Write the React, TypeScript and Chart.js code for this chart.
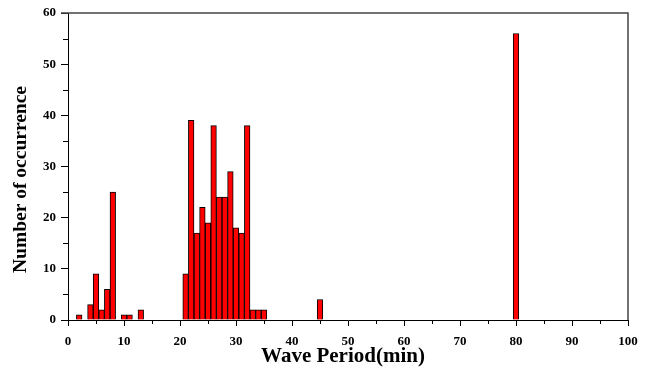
import React, { useEffect, useRef } from 'react';
import { Chart, registerables } from 'chart.js';

Chart.register(...registerables);

// Wave period (min) of each bar and its number of occurrence
const periods = [2, 4, 5, 6, 7, 8, 10, 11, 13, 21, 22, 23, 24, 25, 26, 27, 28, 29, 30, 31, 32, 33, 34, 35, 45, 80];
const counts = [1, 3, 9, 2, 6, 25, 1, 1, 2, 9, 39, 17, 22, 19, 38, 24, 24, 29, 18, 17, 38, 2, 2, 2, 4, 56];

const xTickLabels = [0, 10, 20, 30, 40, 50, 60, 70, 80, 90, 100];
const yTickLabels = [0, 10, 20, 30, 40, 50, 60];
const xMinorTicks = [5, 15, 25, 35, 45, 55, 65, 75, 85, 95];
const yMinorTicks = [5, 15, 25, 35, 45, 55];

const xTitle = 'Wave Period(min)';
const yTitle = 'Number of occurrence';

const FONT = '"Liberation Serif", "Times New Roman", serif';

const framePlugin = {
  id: 'frameAndTitles',
  afterDraw(chart: any) {
    const { ctx, chartArea } = chart;
    const { left, right, top, bottom } = chartArea;
    const xs = chart.scales.x;
    const ys = chart.scales.y;
    ctx.save();
    // minor ticks
    ctx.strokeStyle = '#000';
    ctx.lineWidth = 1;
    ctx.beginPath();
    xMinorTicks.forEach((v) => {
      const px = Math.round(xs.getPixelForValue(v)) + 0.5;
      ctx.moveTo(px, bottom);
      ctx.lineTo(px, bottom + 4);
    });
    yMinorTicks.forEach((v) => {
      const py = Math.round(ys.getPixelForValue(v)) + 0.5;
      ctx.moveTo(left - 5, py);
      ctx.lineTo(left, py);
    });
    ctx.stroke();
    // frame (top and right)
    ctx.strokeStyle = '#444';
    ctx.lineWidth = 1.5;
    ctx.beginPath();
    ctx.moveTo(left - 7, top);
    ctx.lineTo(right, top);
    ctx.lineTo(right, bottom);
    ctx.stroke();
    // titles
    ctx.fillStyle = '#000';
    ctx.font = 'bold 21px ' + FONT;
    ctx.textAlign = 'center';
    ctx.textBaseline = 'middle';
    ctx.fillText(xTitle, (left + right) / 2 - 5, bottom + 37);
    ctx.translate(left - 47, (top + bottom) / 2 + 13);
    ctx.rotate(-Math.PI / 2);
    ctx.font = 'bold 19.5px ' + FONT;
    ctx.fillText(yTitle, 0, 0);
    ctx.restore();
  },
};

export default function App() {
  const canvasRef = useRef<HTMLCanvasElement | null>(null);

  useEffect(() => {
    document.body.style.margin = '0';
    const canvas = canvasRef.current;
    if (!canvas) return;
    const chart = new Chart(canvas, {
      type: 'bar',
      data: {
        datasets: [
          {
            data: periods.map((p, i) => ({ x: p, y: counts[i] })),
            backgroundColor: '#ff0000',
            borderColor: '#000000',
            borderWidth: 1,
            barPercentage: 1,
            categoryPercentage: 1,
          },
        ],
      },
      options: {
        responsive: false,
        animation: false,
        devicePixelRatio: 1,
        layout: { padding: { left: 0, right: 24, top: 13, bottom: 0 } },
        plugins: { legend: { display: false }, tooltip: { enabled: false } },
        scales: {
          x: {
            type: 'linear',
            min: 0,
            max: 100,
            offset: false,
            grid: { offset: false, drawOnChartArea: false, drawTicks: true, tickLength: 6, color: '#000' },
            border: { display: true, color: '#000', width: 1 },
            ticks: {
              stepSize: 10,
              padding: 8,
              color: '#000',
              font: { family: FONT, size: 13, weight: 'bold' },
              maxRotation: 0,
              callback: (v: any) => (xTickLabels.includes(Number(v)) ? String(v) : ''),
            },
            afterFit: (s: any) => {
              s.height = 59;
            },
          },
          y: {
            min: 0,
            max: 60,
            grid: { drawOnChartArea: false, drawTicks: true, tickLength: 7, color: '#000' },
            border: { display: true, color: '#000', width: 1 },
            ticks: {
              stepSize: 10,
              padding: 5,
              color: '#000',
              font: { family: FONT, size: 13, weight: 'bold' },
              callback: (v: any) => (yTickLabels.includes(Number(v)) ? String(v) : ''),
            },
            afterFit: (s: any) => {
              s.width = 68;
            },
          },
        },
      },
      plugins: [framePlugin],
    } as any);
    return () => chart.destroy();
  }, []);

  return (
    <div style={{ width: 652, height: 379 }}>
      <canvas ref={canvasRef} width={652} height={379} style={{ display: 'block' }} />
    </div>
  );
}
